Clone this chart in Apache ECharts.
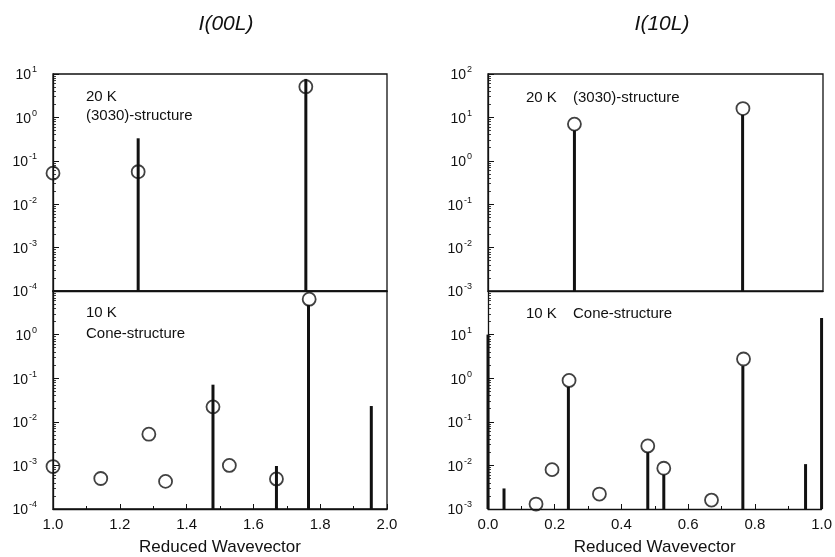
<!DOCTYPE html>
<html>
<head>
<meta charset="utf-8">
<script src="https://cdn.jsdelivr.net/npm/echarts@6/dist/echarts.min.js"></script>
<style>html,body{margin:0;padding:0;background:#fff;}#c{width:835px;height:557px;}</style>
</head>
<body>
<div id="c"></div>
<script>
// ---- Data ----
// I(00L), 20 K, (3030)-structure
const tlBarL = [1.255, 1.757];
const tlBarI = [0.33, 7.7];
const tlObsL = [1.0, 1.255, 1.757];
const tlObsI = [0.052, 0.056, 5.1];
// I(00L), 10 K, Cone-structure
const blBarL = [1.479, 1.669, 1.765, 1.953];
const blBarI = [0.071, 0.00097, 4.8, 0.023];
const blObsL = [1.0, 1.143, 1.287, 1.337, 1.479, 1.528, 1.669, 1.767];
const blObsI = [0.00094, 0.0005, 0.0052, 0.00043, 0.022, 0.001, 0.00049, 6.5];
// I(10L), 20 K, (3030)-structure
const trBarL = [0.258, 0.760];
const trBarI = [5.0, 11.4];
const trObsL = [0.258, 0.761];
const trObsI = [7.0, 16];
// I(10L), 10 K, Cone-structure
const brBarL = [0.0, 0.048, 0.241, 0.479, 0.527, 0.764, 0.952, 1.0];
const brBarI = [10, 0.00296, 0.63, 0.02, 0.0061, 1.9, 0.0107, 24];
const brObsL = [0.144, 0.192, 0.243, 0.334, 0.479, 0.527, 0.670, 0.766];
const brObsI = [0.0013, 0.008, 0.89, 0.0022, 0.028, 0.0086, 0.0016, 2.76];

const xTicksLeft = [1.0, 2.0];
const xTicksRight = [0.0, 1.0];
const yRange = { tl: [1e-4, 1e1], bl: [1e-4, 1e1], tr: [1e-3, 1e2], br: [1e-3, 1e2] };

const FONT = 'Liberation Sans, Arial, Helvetica, sans-serif';
const INK = '#111';

function pairs(a, b) { return a.map((v, i) => [v, b[i]]); }

const chart = echarts.init(document.getElementById('c'));

function yAxisCfg(gi, range, hideMax) {
  return {
    type: 'log', logBase: 10, gridIndex: gi, min: range[0], max: range[1], splitNumber: 5,
    axisLine: { show: true, lineStyle: { color: INK, width: 1.3 } },
    axisTick: { show: true, inside: true, length: 6, lineStyle: { color: INK, width: 1 } },
    minorTick: { show: true, splitNumber: 9, length: 3, lineStyle: { color: INK, width: 0.8 } },
    splitLine: { show: false },
    axisLabel: {
      margin: 16, showMaxLabel: !hideMax,
      formatter: function (v) {
        const e = Math.round(Math.log10(v));
        return '{b|10}{s|' + e + '}';
      },
      rich: {
        b: { fontSize: 14, fontFamily: FONT, color: INK, verticalAlign: 'bottom' },
        s: { fontSize: 9, fontFamily: FONT, color: INK, verticalAlign: 'bottom', padding: [0, 0, 8, 1] }
      }
    }
  };
}

function xAxisCfg(gi, range, showLabels) {
  return {
    type: 'value', gridIndex: gi, min: range[0], max: range[1], interval: 0.2,
    axisLine: { show: true, lineStyle: { color: INK, width: 1.3 } },
    axisTick: { show: showLabels, inside: true, length: 5, lineStyle: { color: INK, width: 1 } },
    minorTick: { show: showLabels, splitNumber: 2, length: 3, lineStyle: { color: INK, width: 1 } },
    splitLine: { show: false },
    axisLabel: {
      show: showLabels, margin: 8, fontSize: 15, fontFamily: FONT, color: INK,
      formatter: v => v.toFixed(1)
    },
    name: showLabels ? 'Reduced Wavevector' : '',
    nameLocation: 'middle', nameGap: 30,
    nameTextStyle: { fontSize: 17, fontFamily: FONT, color: INK }
  };
}

function barSeries(gi, L, I) {
  return {
    type: 'custom', xAxisIndex: gi, yAxisIndex: gi, clip: false, z: 2,
    data: pairs(L, I),
    renderItem: function (params, api) {
      const top = api.coord([api.value(0), api.value(1)]);
      const cs = params.coordSys;
      return {
        type: 'line',
        shape: { x1: top[0], y1: top[1], x2: top[0], y2: cs.y + cs.height },
        style: { stroke: INK, lineWidth: 3 }
      };
    }
  };
}

function obsSeries(gi, L, I) {
  return {
    type: 'scatter', xAxisIndex: gi, yAxisIndex: gi, clip: false, z: 3,
    symbol: 'circle', symbolSize: 13,
    itemStyle: { color: 'rgba(0,0,0,0)', borderColor: INK, borderWidth: 1.8 },
    emphasis: { disabled: true },
    data: pairs(L, I)
  };
}

function txt(x, y, s, size, extra) {
  return Object.assign({
    type: 'text', x: x, y: y,
    style: { text: s, fontSize: size, fontFamily: FONT, fill: INK, textVerticalAlign: 'middle' }
  }, extra || {});
}

const option = {
  backgroundColor: '#fff',
  animation: false,
  grid: [
    { left: 53, top: 74, width: 334, height: 217, show: true, borderColor: INK, borderWidth: 1.3, backgroundColor: 'transparent' },
    { left: 53, top: 291, width: 334, height: 218, show: true, borderColor: INK, borderWidth: 1.3, backgroundColor: 'transparent' },
    { left: 488, top: 74, width: 335, height: 217, show: true, borderColor: INK, borderWidth: 1.3, backgroundColor: 'transparent' },
    { left: 488, top: 291, width: 335, height: 218, show: false }
  ],
  xAxis: [
    xAxisCfg(0, xTicksLeft, false),
    xAxisCfg(1, xTicksLeft, true),
    xAxisCfg(2, xTicksRight, false),
    xAxisCfg(3, xTicksRight, true)
  ],
  yAxis: [
    yAxisCfg(0, yRange.tl, false),
    yAxisCfg(1, yRange.bl, true),
    yAxisCfg(2, yRange.tr, false),
    yAxisCfg(3, yRange.br, true)
  ],
  series: [
    barSeries(0, tlBarL, tlBarI), obsSeries(0, tlObsL, tlObsI),
    barSeries(1, blBarL, blBarI), obsSeries(1, blObsL, blObsI),
    barSeries(2, trBarL, trBarI), obsSeries(2, trObsL, trObsI),
    barSeries(3, brBarL, brBarI), obsSeries(3, brObsL, brObsI)
  ],
  graphic: [
    { type: 'text', x: 226, y: 24, style: { text: 'I(00L)', fontSize: 21, fontStyle: 'italic', fontFamily: FONT, fill: INK, textAlign: 'center', textVerticalAlign: 'middle' } },
    { type: 'text', x: 662, y: 24, style: { text: 'I(10L)', fontSize: 21, fontStyle: 'italic', fontFamily: FONT, fill: INK, textAlign: 'center', textVerticalAlign: 'middle' } },
    txt(86, 97, '20 K', 15),
    txt(86, 116, '(3030)-structure', 15),
    txt(86, 313, '10 K', 15),
    txt(86, 334, 'Cone-structure', 15),
    txt(526, 98, '20 K', 15),
    txt(573, 98, '(3030)-structure', 15),
    txt(526, 314, '10 K', 15),
    txt(573, 314, 'Cone-structure', 15)
  ]
};
chart.setOption(option);
</script>
</body>
</html>
